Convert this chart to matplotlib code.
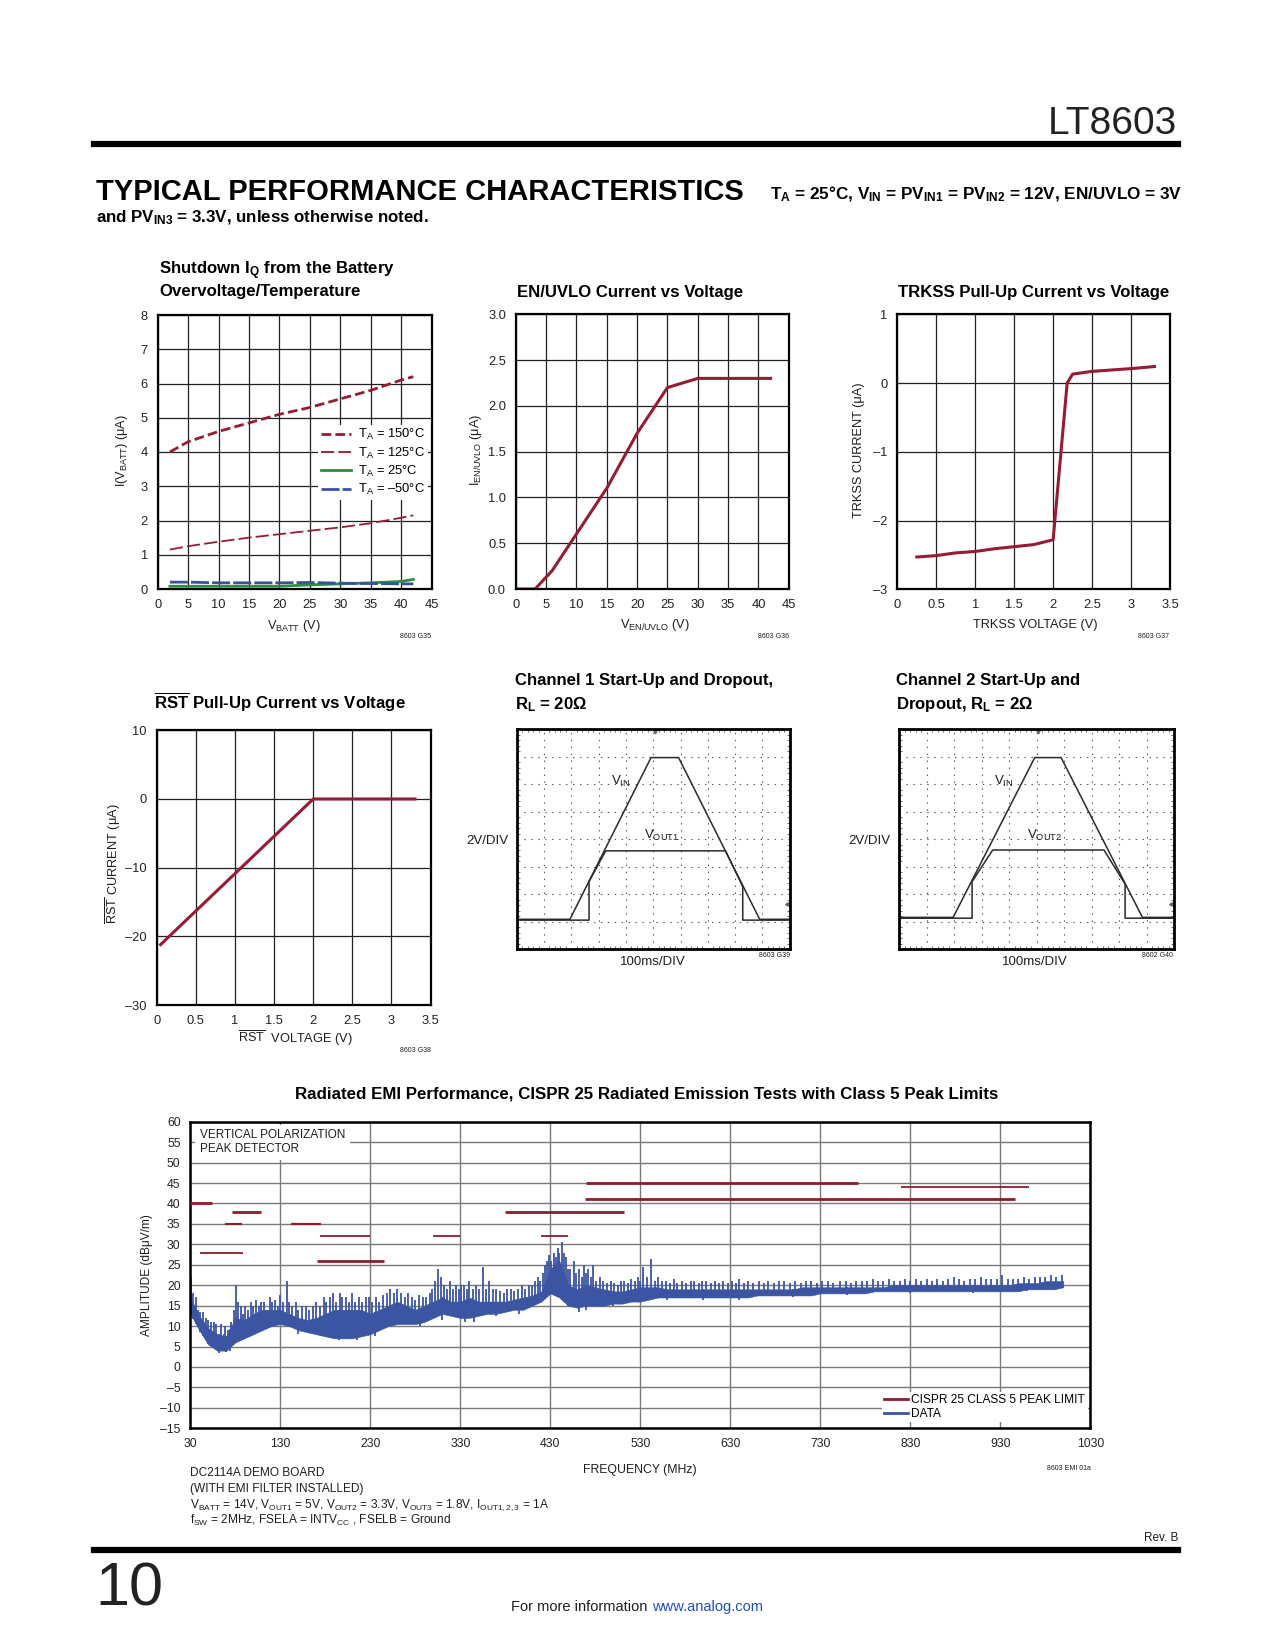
import numpy as np
import matplotlib
matplotlib.use('Agg')
import matplotlib.pyplot as plt
from matplotlib.lines import Line2D

# fonts (no narrow face installed, so sizes are cut to match widths)
plt.rcParams['font.family'] = ['Liberation Sans', 'DejaVu Sans']
plt.rcParams['mathtext.fontset'] = 'custom'
plt.rcParams['mathtext.rm'] = 'Liberation Sans'
plt.rcParams['mathtext.it'] = 'Liberation Sans:italic'
plt.rcParams['mathtext.bf'] = 'Liberation Sans:bold'
plt.rcParams['mathtext.sf'] = 'Liberation Sans'
plt.rcParams['lines.scale_dashes'] = False

RED = '#961b35'
GREEN = '#2f8c3f'
BLUE = '#3551a4'
EMI_BLUE = '#3b55a3'
LIM_RED = '#8c1c2e'
INK = '#1e1e1e'

# ---- data -------------------------------------------------------------
# shutdown Iq vs VBATT
vbatt = [2, 5, 10, 15, 20, 25, 30, 35, 40, 42]
iq_150 = [4.0, 4.3, 4.6, 4.85, 5.1, 5.3, 5.55, 5.8, 6.1, 6.2]
iq_125 = [1.15, 1.25, 1.38, 1.5, 1.6, 1.7, 1.8, 1.92, 2.08, 2.15]
iq_25 = [0.08, 0.08, 0.08, 0.08, 0.08, 0.12, 0.15, 0.18, 0.22, 0.28]
iq_m50 = [0.2, 0.2, 0.18, 0.18, 0.18, 0.19, 0.17, 0.16, 0.15, 0.15]

# EN/UVLO current
ven = [0, 3.2, 6, 9, 12, 15, 20, 25, 30, 42]
ien = [0, 0, 0.2, 0.5, 0.8, 1.1, 1.7, 2.2, 2.3, 2.3]

# TRKSS pull-up
vtrk = [0.25, 0.5, 0.75, 1.0, 1.25, 1.5, 1.75, 2.0, 2.18, 2.25, 2.5, 3.0, 3.3]
itrk = [-2.53, -2.51, -2.47, -2.45, -2.41, -2.38, -2.35, -2.28, 0.0, 0.13, 0.17, 0.21, 0.24]

# RST pull-up
vrst = [0.05, 2.0, 3.3]
irst = [-21.2, 0.0, 0.0]

# scope traces (divisions)
ch1_t = [0, 1.95, 4.92, 5.93, 8.9, 10]
ch1_vin = [1.08, 1.08, 6.96, 6.96, 1.08, 1.08]
ch1_out_t = [0, 2.65, 2.65, 3.26, 7.65, 8.28, 8.28, 10]
ch1_vout = [1.05, 1.05, 2.45, 3.57, 3.57, 2.27, 1.05, 1.05]

ch2_t = [0, 1.96, 4.93, 5.89, 8.85, 10]
ch2_vin = [1.15, 1.15, 6.96, 6.96, 1.15, 1.15]
ch2_out_t = [0, 2.65, 2.65, 3.40, 7.45, 8.22, 8.22, 10]
ch2_vout = [1.12, 1.12, 2.45, 3.6, 3.6, 2.36, 1.12, 1.12]

# EMI spectrum (MHz, dBuV/m): dense band floor/top every 10 MHz
emi_freq = list(range(30, 1001, 10))
emi_floor = [13, 9, 5.5, 4, 4, 6, 7, 8, 9, 10,
             10.5, 10, 9, 8.5, 8, 7.5, 7, 7, 7, 7.5,
             8, 9, 10, 10.5, 10.5, 10.5, 11, 12, 13, 12.5,
             12, 12, 12.5, 13, 13, 13.5, 14, 14, 15, 16,
             18, 17, 15, 14.5, 15, 15, 15, 15.5, 15.5, 16,
             16, 16.5, 17, 17, 17, 17, 17, 17, 17, 17,
             17, 17, 17, 17.5, 17.5, 17.5, 17.5, 17.5, 17.5, 17.5,
             18, 18, 18, 18, 18, 18, 18.5, 18.5, 18.5, 18.5,
             18.5, 18.5, 18.5, 18.5, 18.5, 18.5, 18.5, 18.5, 18.5, 18.5,
             18.5, 18.5, 18.5, 19, 19, 19, 19, 19.5]
emi_top = [17, 12.5, 9.5, 8, 7.5, 12, 11.5, 13, 14, 14,
           14, 13, 12, 11.5, 12, 13, 14, 14, 14, 14,
           13, 14, 15, 16, 15, 14, 15, 16, 17, 16,
           16, 17, 16, 16, 16, 16, 16.5, 17, 17.5, 18.5,
           24, 26, 20, 19, 20, 19.5, 19, 18.5, 18.5, 19,
           19.5, 19.5, 19.5, 19, 19, 19, 19, 19, 19, 19,
           19, 19, 19, 19, 19, 19, 19, 19, 19.5, 19.5,
           19.5, 19.5, 19.5, 19.5, 19.5, 19.5, 19.5, 19.5, 20, 20,
           20, 20, 20, 20, 20, 20, 20, 20, 20, 20,
           20, 20, 20.5, 20.5, 20.5, 21, 21, 21]
# individual peaks above the band
spike_f = [31, 33, 36, 38, 41, 44, 47, 50, 53, 56, 59,
           62, 64, 67, 69, 72, 75, 78, 81, 83,
           86, 88, 91, 94, 97, 100, 103, 106, 109, 112, 115, 118, 121, 124, 127, 130, 133, 137, 140,
           143, 147, 150, 154, 158, 162, 166, 170, 174, 178, 181, 185, 189, 192, 196, 199,
           203, 206, 210, 213, 217, 221, 225, 228, 232, 236, 240, 244, 248, 252, 256, 260,
           264, 268, 272, 276, 280, 284, 288, 292, 296, 299,
           302, 305, 308, 312, 315, 318, 322, 325, 328, 331, 334, 337, 340, 344, 347, 351, 355, 358, 362, 366,
           370, 374, 378, 382, 386, 390, 394, 398, 402, 406, 410, 413, 416, 419,
           422, 424, 426, 428, 431, 434, 436, 438, 440, 443, 445, 447, 450, 452, 456, 459,
           462, 465, 467, 470, 472, 475, 477, 481, 485, 489, 493, 497,
           501, 505, 509, 512, 516, 520, 524, 527, 530, 533, 537, 542, 546, 550, 554, 558,
           563, 567, 571, 576, 581, 586, 590, 595, 599, 603, 608, 613, 617, 622, 627, 632, 636,
           640, 645, 650, 655, 662, 667, 672, 678, 684, 690, 696,
           702, 708, 714, 720, 726, 732, 738, 744, 752, 758, 764, 770, 776, 782, 788, 794,
           800, 806, 812, 818, 824, 830, 836, 842, 848, 854, 860, 866, 872, 878, 884, 890, 896,
           902, 908, 914, 920, 926, 932, 938, 944, 950, 956, 962, 968, 974, 980, 986, 992, 998]
spike_lvl = [22, 18, 17, 14, 13.5, 13.5, 12, 11.5, 11, 11, 10.5,
             8, 10.5, 8, 10, 9, 11, 14, 20, 16,
             15, 13, 15, 14, 16, 15, 16.5, 15, 16, 16, 14, 17, 16, 16.5, 15, 17.5, 16, 21, 16,
             15, 16, 14, 15, 15, 14, 15, 16, 15, 17, 16, 17, 18, 16, 18, 17,
             17, 16, 18, 16, 17, 16, 17, 17, 16, 17, 16, 17.5, 18, 19, 18, 19,
             18, 17, 18, 17, 16.5, 17.5, 17, 17, 18, 19,
             21, 24, 22, 20, 19, 21, 19, 20, 19, 20, 20, 19, 21, 19, 20, 19, 24.5, 19, 21, 19,
             19, 18.5, 18, 19, 19, 18.5, 19, 20, 19, 20, 20, 21, 22, 21,
             23, 25, 26, 27.5, 26, 28, 27, 29, 28, 30.5, 28, 27, 24, 24, 26, 23,
             24, 22, 25, 23, 24, 22, 25, 21, 22, 21, 20.5, 21,
             20.5, 20, 21, 21, 20.5, 21.5, 21, 22, 21, 24.5, 22, 26.5, 21, 22, 21, 21,
             20.5, 21.5, 20.5, 21, 20.5, 21, 21, 20.5, 21, 21, 20.5, 21, 20.5, 21, 20.5, 21, 20.5,
             21.5, 20.5, 21, 20.5, 21, 20.5, 21, 20.5, 21, 21, 20.5,
             21, 20.5, 21, 21, 20.5, 21, 21, 20.5, 21, 21, 20.5, 21, 21, 21, 21.5, 21,
             21, 21.5, 21, 21, 21.5, 21, 21.5, 21, 21.5, 21, 21.5, 21, 21.5, 22, 21.5, 21, 21.5,
             21.5, 22, 21.5, 21.5, 21.5, 22.5, 21.5, 21.5, 21.5, 22, 21.5, 22, 22, 22, 22.5, 22, 22.5]
# dips below the band floor
dip_f = [62, 66, 70, 74, 150, 175, 195, 215, 235, 285, 310, 335, 345, 370, 395,
         462, 470, 500, 560, 600, 640, 700, 760, 830, 900, 960]
dip_lvl = [3.5, 3.8, 3.6, 4, 8, 7.5, 6.5, 6.5, 7.5, 10, 11.5, 11, 11, 12.5, 13,
           13.5, 14, 15, 16.5, 16.5, 16.5, 17, 17.5, 18, 18, 18.5]

# CISPR 25 class 5 peak limit segments
lim_start = [30, 41, 76, 68, 142, 174, 171, 300, 380, 420, 470, 468, 820]
lim_stop = [54, 88, 108, 87, 175, 230, 245, 330, 512, 450, 772, 946, 962]
lim_level = [40, 28, 38, 35, 35, 32, 26, 32, 38, 32, 45, 41, 44]
lim_lw = [2.0, 1.3, 2.0, 1.5, 1.6, 1.3, 2.0, 1.3, 2.0, 1.3, 2.0, 2.0, 1.3]

# ---- layout helpers -------------------------------------------------
W, H = 1275, 1650
fig = plt.figure(figsize=(W / 100, H / 100), dpi=100)


def px_axes(l, t, r, b):
    return fig.add_axes([l / W, 1 - b / H, (r - l) / W, (b - t) / H])


def ftext(x, y, s, **kw):
    # y is the visual centre of the capitals; text sits on its baseline
    kw.setdefault('color', INK)
    if 'va' not in kw and not kw.get('rotation'):
        kw['va'] = 'baseline'
        y = y + 0.497 * kw.get('fontsize', 10)
    kw.setdefault('va', 'center')
    return fig.text(x / W, 1 - y / H, s, **kw)


def hrule(y, x0, x1, lw):
    fig.add_artist(Line2D([x0 / W, x1 / W], [1 - y / H, 1 - y / H], lw=lw, color='black'))


def dash(s):
    return s.replace('-', '\u2013')


TICK = 9.3
LAB = 9.2
TSIZE = 12.1
CODE = 5.0


def style_chart(ax, xt, xl, yt, yl):
    ax.set_xlim(xt[0], xt[-1])
    ax.set_ylim(yt[0], yt[-1])
    ax.set_xticks(xt)
    ax.set_xticklabels(xl)
    ax.set_yticks(yt)
    ax.set_yticklabels(yl)
    ax.grid(True, color='#202020', lw=0.9)
    ax.set_axisbelow(True)
    ax.tick_params(length=0, labelsize=TICK, colors='#222222', pad=7)
    for s in ax.spines.values():
        s.set_linewidth(1.6)
        s.set_color('black')


sub = lambda s: r'$_{\mathrm{%s}}$' % s
bsub = lambda s: r'$_{\mathbf{%s}}$' % s

# ---- header ---------------------------------------------------------
ftext(1177, 120, 'LT8603', fontsize=28, ha='right', color='#222222')
hrule(144, 94, 1178, 4.5)
ftext(96, 190, 'TYPICAL PERFORMANCE CHARACTERISTICS', fontsize=21, fontweight='bold',
      ha='left', color='black')
ftext(1182, 193, 'T' + bsub('A') + ' = 25°C, V' + bsub('IN') + ' = PV' + bsub('IN1') +
      ' = PV' + bsub('IN2') + ' = 12V, EN/UVLO = 3V', fontsize=12.3, fontweight='bold',
      ha='right', color='black')
ftext(96, 216, 'and PV' + bsub('IN3') + ' = 3.3V, unless otherwise noted.', fontsize=12.2,
      fontweight='bold', ha='left', color='black')

# ---- chart 1: shutdown Iq -------------------------------------------
ax1 = px_axes(157.7, 315, 431.6, 589)
l150, = ax1.plot(vbatt, iq_150, color=RED, lw=2.0, dashes=(7, 3))
l125, = ax1.plot(vbatt, iq_125, color=RED, lw=1.3, dashes=(9.5, 3))
l25, = ax1.plot(vbatt, iq_25, color=GREEN, lw=2.0)
lm50, = ax1.plot(vbatt, iq_m50, color=BLUE, lw=2.0, dashes=(13, 2.2))
style_chart(ax1, list(range(0, 46, 5)), [str(v) for v in range(0, 46, 5)],
            list(range(0, 9)), [str(v) for v in range(0, 9)])
ax1.legend([l150, l125, l25, lm50],
           ['T' + sub('A') + ' = 150°C', 'T' + sub('A') + ' = 125°C',
            'T' + sub('A') + ' = 25°C', 'T' + sub('A') + ' = \u201350°C'],
           loc='upper left', bbox_to_anchor=(0.585, 0.60), fontsize=9.4,
           frameon=True, framealpha=1, edgecolor='none', fancybox=False,
           borderpad=0.2, borderaxespad=0, labelspacing=0.25,
           handlelength=2.3, handletextpad=0.6)
ftext(159, 268, 'Shutdown I' + bsub('Q') + ' from the Battery', fontsize=TSIZE,
      fontweight='bold', ha='left', color='black')
ftext(159, 290, 'Overvoltage/Temperature', fontsize=TSIZE, fontweight='bold',
      ha='left', color='black')
ftext(122, 450, 'I(V' + sub('BATT') + ') (μA)', fontsize=LAB, rotation=90, ha='center')
ftext(294, 624, 'V' + sub('BATT') + ' (V)', fontsize=LAB, ha='center')
ftext(416, 636, '8603 G35', fontsize=CODE, ha='center')

# ---- chart 2: EN/UVLO -----------------------------------------------
ax2 = px_axes(515.7, 314.3, 788.8, 589)
ax2.plot(ven, ien, color=RED, lw=2.2, solid_joinstyle='round')
style_chart(ax2, list(range(0, 46, 5)), [str(v) for v in range(0, 46, 5)],
            [0, 0.5, 1, 1.5, 2, 2.5, 3], ['0.0', '0.5', '1.0', '1.5', '2.0', '2.5', '3.0'])
ftext(516.7, 291, 'EN/UVLO Current vs Voltage', fontsize=TSIZE, fontweight='bold',
      ha='left', color='black')
ftext(476, 450, 'I' + sub('EN/UVLO') + ' (μA)', fontsize=LAB, rotation=90, ha='center')
ftext(655, 623, 'V' + sub('EN/UVLO') + ' (V)', fontsize=LAB, ha='center')
ftext(774, 636, '8603 G36', fontsize=CODE, ha='center')

# ---- chart 3: TRKSS -------------------------------------------------
ax3 = px_axes(897.3, 314.3, 1170, 589.3)
ax3.plot(vtrk, itrk, color=RED, lw=2.2, solid_joinstyle='round')
style_chart(ax3, [0, 0.5, 1, 1.5, 2, 2.5, 3, 3.5],
            ['0', '0.5', '1', '1.5', '2', '2.5', '3', '3.5'],
            [-3, -2, -1, 0, 1], [dash('-3'), dash('-2'), dash('-1'), '0', '1'])
ftext(897.7, 291, 'TRKSS Pull-Up Current vs Voltage', fontsize=TSIZE, fontweight='bold',
      ha='left', color='black')
ftext(859, 450, 'TRKSS CURRENT (μA)', fontsize=LAB, rotation=90, ha='center')
ftext(1035, 623, 'TRKSS VOLTAGE (V)', fontsize=LAB, ha='center')
ftext(1154, 636, '8603 G37', fontsize=CODE, ha='center')

# ---- chart 4: RST ---------------------------------------------------
ax4 = px_axes(156.7, 730.3, 430.6, 1005)
ax4.plot(vrst, irst, color=RED, lw=2.2, solid_joinstyle='round')
style_chart(ax4, [0, 0.5, 1, 1.5, 2, 2.5, 3, 3.5],
            ['0', '0.5', '1', '1.5', '2', '2.5', '3', '3.5'],
            [-30, -20, -10, 0, 10], [dash('-30'), dash('-20'), dash('-10'), '0', '10'])
ftext(154, 703, r'$\overline{\mathbf{RST}}$ Pull-Up Current vs Voltage', fontsize=TSIZE,
      fontweight='bold', ha='left', color='black')
ftext(113.5, 864, r'$\overline{\mathrm{RST}}$ CURRENT (μA)', fontsize=LAB, rotation=90,
      ha='center')
ftext(295, 1038, r'$\overline{\mathrm{RST}}$  VOLTAGE (V)', fontsize=LAB, ha='center')
ftext(415, 1050, '8603 G38', fontsize=CODE, ha='center')


# ---- scope shots ----------------------------------------------------
def scope(ax, t, vin, t_out, vout, out_name):
    ax.plot(t, vin, color='#2a2a2a', lw=1.1)
    ax.plot(t_out, vout, color='#2a2a2a', lw=1.1)
    ax.set_xlim(0, 10)
    ax.set_ylim(0, 8)
    ax.set_xticks(range(11))
    ax.set_yticks(range(9))
    ax.set_xticks(np.arange(0, 10.01, 0.2), minor=True)
    ax.set_yticks(np.arange(0, 8.01, 0.2), minor=True)
    ax.set_xticklabels([])
    ax.set_yticklabels([])
    ax.grid(True, color='#555555', lw=0.8, ls=(0, (1, 4)))
    ax.tick_params(which='major', length=0)
    ax.tick_params(which='minor', direction='in', length=2.5, width=0.6,
                   colors='#555555', top=True, right=True)
    for s in ax.spines.values():
        s.set_linewidth(2.0)
        s.set_color('black')
    ax.text(3.8, 5.98, 'V' + sub('IN'), fontsize=9.5, ha='center', va='baseline', color=INK)
    ax.text(5.3, 4.0, 'V' + sub(out_name), fontsize=9.5, ha='center', va='baseline', color=INK)
    ax.plot([5.05], [7.93], marker='v', ms=3.5, color='#666666')
    ax.plot([9.9], [1.65], marker='<', ms=3, color='#666666')


ax5 = px_axes(516.7, 729, 789.7, 949)
scope(ax5, ch1_t, ch1_vin, ch1_out_t, ch1_vout, 'OUT1')
ftext(514.6, 679, 'Channel 1 Start-Up and Dropout,', fontsize=TSIZE, fontweight='bold',
      ha='left', color='black')
ftext(514.6, 703, 'R' + bsub('L') + ' = 20Ω', fontsize=TSIZE, fontweight='bold',
      ha='left', color='black')
ftext(487, 839, '2V/DIV', fontsize=9.5, ha='center')
ftext(653, 960, '100ms/DIV', fontsize=9.5, ha='center')
ftext(775, 955, '8603 G39', fontsize=CODE, ha='center')

ax6 = px_axes(899.3, 729, 1174, 949)
scope(ax6, ch2_t, ch2_vin, ch2_out_t, ch2_vout, 'OUT2')
ftext(896, 679, 'Channel 2 Start-Up and', fontsize=TSIZE, fontweight='bold',
      ha='left', color='black')
ftext(896, 703, 'Dropout, R' + bsub('L') + ' = 2Ω', fontsize=TSIZE, fontweight='bold',
      ha='left', color='black')
ftext(869, 839, '2V/DIV', fontsize=9.5, ha='center')
ftext(1035, 960, '100ms/DIV', fontsize=9.5, ha='center')
ftext(1157, 955, '8602 G40', fontsize=CODE, ha='center')

# ---- EMI chart ------------------------------------------------------
ax7 = px_axes(190.3, 1121.7, 1090.3, 1428.3)
ax7.fill_between(emi_freq, emi_floor, emi_top, color=EMI_BLUE, lw=0.4, zorder=2)
spike_base = np.interp(spike_f, emi_freq, emi_floor)
ax7.vlines(spike_f, spike_base, spike_lvl, color=EMI_BLUE, lw=1.3, zorder=2)
dip_top = np.interp(dip_f, emi_freq, emi_top)
ax7.vlines(dip_f, dip_lvl, dip_top, color=EMI_BLUE, lw=1.3, zorder=2)
for a, b, lv, w in zip(lim_start, lim_stop, lim_level, lim_lw):
    ax7.hlines(lv, a, b, color=LIM_RED, lw=w, zorder=3)
ax7.set_xlim(30, 1030)
ax7.set_ylim(-15, 60)
ax7.set_xticks(list(range(30, 1031, 100)))
ax7.set_xticklabels([str(v) for v in range(30, 1031, 100)])
ax7.set_yticks(list(range(-15, 61, 5)))
ax7.set_yticklabels([dash(str(v)) for v in range(-15, 61, 5)])
ax7.grid(True, color='#7a7a7a', lw=1.0)
ax7.set_axisbelow(True)
ax7.tick_params(length=0, labelsize=8.8, colors='#222222', pad=7)
for s in ax7.spines.values():
    s.set_linewidth(1.8)
    s.set_color('black')
ax7.text(0.0105, 0.975, 'VERTICAL POLARIZATION\nPEAK DETECTOR', transform=ax7.transAxes,
         fontsize=8.5, ha='left', va='top', color=INK, linespacing=1.2, zorder=4,
         bbox=dict(boxstyle='square,pad=0.4', fc='white', ec='none'))
ax7.legend([Line2D([], [], color=LIM_RED, lw=2), Line2D([], [], color=EMI_BLUE, lw=2)],
           ['CISPR 25 CLASS 5 PEAK LIMIT', 'DATA'], loc='lower left',
           bbox_to_anchor=(0.768, 0.02), fontsize=8.6, frameon=True, framealpha=1,
           edgecolor='none', fancybox=False, borderpad=0.2, borderaxespad=0,
           labelspacing=0.12, handlelength=2.0, handletextpad=0.3)
ftext(647, 1092, 'Radiated EMI Performance, CISPR 25 Radiated Emission Tests with Class 5 Peak Limits',
      fontsize=12.2, fontweight='bold', ha='center', color='black')
ftext(147, 1275, 'AMPLITUDE (dBμV/m)', fontsize=8.6, rotation=90, ha='center')
ftext(640, 1469, 'FREQUENCY (MHz)', fontsize=8.8, ha='center')
ftext(1069, 1468, '8603 EMI 01a', fontsize=CODE, ha='center')
ftext(190, 1472, 'DC2114A DEMO BOARD', fontsize=8.6, ha='left')
ftext(190, 1488, '(WITH EMI FILTER INSTALLED)', fontsize=8.6, ha='left')
ftext(190, 1504, 'V' + sub('BATT') + ' = 14V, V' + sub('OUT1') + ' = 5V, V' + sub('OUT2') +
      ' = 3.3V, V' + sub('OUT3') + ' = 1.8V, I' + sub('OUT1,2,3') + ' = 1A',
      fontsize=8.6, ha='left')
ftext(190, 1520, 'f' + sub('SW') + ' = 2MHz, FSELA = INTV' + sub('CC') + ' , FSELB = Ground',
      fontsize=8.6, ha='left')

# ---- footer ---------------------------------------------------------
ftext(1178, 1537, 'Rev. B', fontsize=8.5, ha='right')
hrule(1550, 94, 1178, 4.5)
ftext(95, 1584, '10', fontsize=44, ha='left', color='#222222')
ftext(511, 1606, 'For more information ', fontsize=10.5, ha='left')
ftext(652, 1606, 'www.analog.com', fontsize=10.5, ha='left', color='#1f4fbf')

fig.savefig('out.png', dpi=100)
